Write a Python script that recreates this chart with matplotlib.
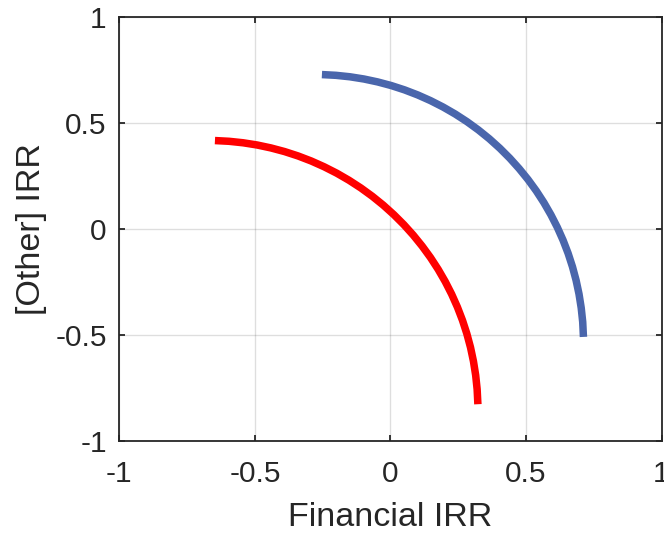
import matplotlib
matplotlib.use("Agg")
import matplotlib.pyplot as plt

plt.rcParams['font.family'] = ['Liberation Sans', 'DejaVu Sans']
plt.rcParams['axes.unicode_minus'] = False

# Data
red_x = [-0.6473, -0.5952, -0.5434, -0.4918, -0.4408, -0.3904, -0.3408, -0.2921,
         -0.2445, -0.1980, -0.1528, -0.1091, -0.0669, -0.0264, 0.0124, 0.0493,
         0.0842, 0.1170, 0.1477, 0.1761, 0.2022, 0.2259, 0.2471, 0.2658,
         0.2819, 0.2954, 0.3062, 0.3144, 0.3198, 0.3226]
red_y = [0.4157, 0.4122, 0.4052, 0.3948, 0.3809, 0.3637, 0.3431, 0.3192,
         0.2920, 0.2618, 0.2284, 0.1921, 0.1529, 0.1110, 0.0663, 0.0192,
         -0.0304, -0.0822, -0.1361, -0.1920, -0.2498, -0.3092, -0.3701, -0.4324,
         -0.4958, -0.5602, -0.6254, -0.6913, -0.7576, -0.8280]

blue_x = [-0.2527, -0.2009, -0.1493, -0.0980, -0.0473, 0.0028, 0.0521, 0.1006,
          0.1480, 0.1942, 0.2391, 0.2826, 0.3246, 0.3649, 0.4034, 0.4401,
          0.4748, 0.5075, 0.5380, 0.5662, 0.5921, 0.6157, 0.6368, 0.6554,
          0.6714, 0.6848, 0.6956, 0.7037, 0.7092, 0.7119]
blue_y = [0.7269, 0.7234, 0.7165, 0.7061, 0.6923, 0.6752, 0.6547, 0.6309,
          0.6039, 0.5738, 0.5407, 0.5046, 0.4656, 0.4239, 0.3795, 0.3326,
          0.2833, 0.2318, 0.1782, 0.1226, 0.0651, 0.0060, -0.0545, -0.1164,
          -0.1795, -0.2435, -0.3084, -0.3739, -0.4398, -0.5105]

ticks = [-1, -0.5, 0, 0.5, 1]
tick_labels = ['-1', '-0.5', '0', '0.5', '1']
x_label = 'Financial IRR'
y_label = '[Other] IRR'

dark = '#262626'

fig = plt.figure(figsize=(6.64, 5.33), dpi=100)
ax = fig.add_axes([0.1797, 0.1732, 0.8166, 0.7955])

ax.plot(red_x, red_y, color='#ff0000', linewidth=5.4, solid_capstyle='butt',
        solid_joinstyle='round')
ax.plot(blue_x, blue_y, color='#4a66ac', linewidth=5.4, solid_capstyle='butt',
        solid_joinstyle='round')

ax.set_xlim(-1, 1)
ax.set_ylim(-1, 1)
ax.set_xticks(ticks)
ax.set_xticklabels(tick_labels)
ax.set_yticks(ticks)
ax.set_yticklabels(tick_labels)

ax.set_axisbelow(True)
ax.grid(True, color=dark, alpha=0.15, linewidth=1.0)

for s in ax.spines.values():
    s.set_color(dark)
    s.set_linewidth(1.3)

ax.tick_params(direction='in', length=4, width=1.3, top=True, right=True,
               colors=dark, labelsize=21.5)
ax.tick_params(axis='x', pad=14)
ax.tick_params(axis='y', pad=9)

ax.set_xlabel(x_label, fontsize=24.5, color=dark, labelpad=10)
ax.set_ylabel(y_label, fontsize=24.5, color=dark, labelpad=6)

fig.savefig('out.png', dpi=100, facecolor='white')
